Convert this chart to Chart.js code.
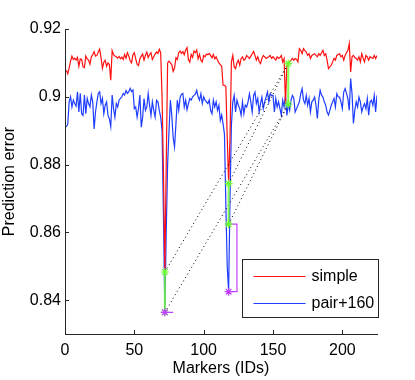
<!DOCTYPE html>
<html>
<head>
<meta charset="utf-8">
<script src="https://cdn.jsdelivr.net/npm/chart.js@4.4.1/dist/chart.umd.min.js"></script>
<style>
  html, body { margin: 0; padding: 0; background: #fff; }
  canvas { display: block; }
</style>
</head>
<body>
<canvas id="errChart" width="415" height="380"></canvas>
<script>
// prediction error per marker
const simpleErr = [
  0.9078, 0.9068, 0.9085, 0.9105, 0.9120, 0.9110, 0.9114, 0.9108, 0.9116, 0.9090,
  0.9112, 0.9110, 0.9088, 0.9086, 0.9120, 0.9112, 0.9108, 0.9096, 0.9118, 0.9124,
  0.9133, 0.9120, 0.9122, 0.9132, 0.9141, 0.9115, 0.9084, 0.9102, 0.9108, 0.9090,
  0.9100, 0.9095, 0.9049, 0.9136, 0.9124, 0.9120, 0.9118, 0.9114, 0.9119, 0.9112,
  0.9117, 0.9110, 0.9125, 0.9114, 0.9130, 0.9120, 0.9106, 0.9100, 0.9124, 0.9130,
  0.9112, 0.9096, 0.9092, 0.9112, 0.9120, 0.9126, 0.9108, 0.9122, 0.9132, 0.9116,
  0.9124, 0.9130, 0.9110, 0.9118, 0.9126, 0.9132, 0.9128, 0.9140, 0.9130, 0.9000,
  0.8780, 0.8483, 0.8800, 0.9100, 0.9105, 0.9100, 0.9095, 0.9075, 0.9085, 0.9115,
  0.9110, 0.9130, 0.9135, 0.9128, 0.9133, 0.9124, 0.9138, 0.9145, 0.9110, 0.9102,
  0.9125, 0.9116, 0.9135, 0.9130, 0.9138, 0.9112, 0.9125, 0.9108, 0.9103, 0.9122,
  0.9118, 0.9126, 0.9124, 0.9128, 0.9122, 0.9115, 0.9125, 0.9112, 0.9118, 0.9108,
  0.9100, 0.9095, 0.9090, 0.9034, 0.9034, 0.9030, 0.8880, 0.8744, 0.8880, 0.9103,
  0.9122, 0.9088, 0.9083, 0.9100, 0.9108, 0.9093, 0.9113, 0.9118, 0.9108, 0.9112,
  0.9122, 0.9118, 0.9113, 0.9120, 0.9127, 0.9134, 0.9122, 0.9108, 0.9118, 0.9105,
  0.9098, 0.9113, 0.9122, 0.9118, 0.9113, 0.9116, 0.9118, 0.9122, 0.9113, 0.9118,
  0.9113, 0.9108, 0.9118, 0.9113, 0.9116, 0.9122, 0.9103, 0.9113, 0.8980, 0.9090,
  0.9098, 0.9104, 0.9108, 0.9113, 0.9108, 0.9113, 0.9110, 0.9103, 0.9142, 0.9137,
  0.9127, 0.9142, 0.9136, 0.9132, 0.9122, 0.9127, 0.9113, 0.9122, 0.9125, 0.9127,
  0.9122, 0.9118, 0.9127, 0.9122, 0.9130, 0.9137, 0.9122, 0.9127, 0.9108, 0.9083,
  0.9088, 0.9093, 0.9103, 0.9113, 0.9108, 0.9122, 0.9125, 0.9127, 0.9118, 0.9122,
  0.9108, 0.9122, 0.9130, 0.9137, 0.9157, 0.9073, 0.9118, 0.9122, 0.9116, 0.9113,
  0.9108, 0.9118, 0.9103, 0.9127, 0.9114, 0.9103, 0.9122, 0.9118, 0.9108, 0.9118,
  0.9115, 0.9113, 0.9122, 0.9113, 0.9122
];
const pairErr = [
  0.8911, 0.8920, 0.8985, 0.9000, 0.8970, 0.8990, 0.8980, 0.8972, 0.9015, 0.8955,
  0.9010, 0.8950, 0.8945, 0.9005, 0.8950, 0.8995, 0.8980, 0.8970, 0.9005, 0.8985,
  0.8905, 0.8955, 0.8985, 0.9010, 0.9015, 0.8980, 0.8995, 0.8950, 0.8975, 0.8985,
  0.8945, 0.8935, 0.8912, 0.9005, 0.8965, 0.8940, 0.8980, 0.8970, 0.8990, 0.8995,
  0.9000, 0.9010, 0.9005, 0.9018, 0.9010, 0.9015, 0.9025, 0.9015, 0.9020, 0.8965,
  0.8970, 0.8940, 0.8965, 0.9005, 0.8910, 0.8940, 0.8995, 0.8960, 0.8970, 0.9010,
  0.8975, 0.8945, 0.8985, 0.8960, 0.8940, 0.8990, 0.8985, 0.8960, 0.8940, 0.8900,
  0.8650, 0.8364, 0.8600, 0.8800, 0.8900, 0.8990, 0.8945, 0.8880, 0.8852, 0.8920,
  0.8990, 0.8960, 0.8998, 0.9008, 0.9010, 0.8970, 0.8990, 0.8962, 0.8980, 0.8995,
  0.8990, 0.9000, 0.9004, 0.9008, 0.9019, 0.9000, 0.8990, 0.9009, 0.8980, 0.9000,
  0.8990, 0.8985, 0.8980, 0.8990, 0.8960, 0.8950, 0.8990, 0.8970, 0.8985, 0.8960,
  0.8975, 0.8930, 0.8946, 0.8920, 0.8890, 0.8680, 0.8500, 0.8425, 0.8700, 0.8916,
  0.8985, 0.9004, 0.8955, 0.8990, 0.8975, 0.8965, 0.8946, 0.8985, 0.8950, 0.8975,
  0.8970, 0.8985, 0.9009, 0.8985, 0.8955, 0.9004, 0.9014, 0.8980, 0.8995, 0.8955,
  0.8980, 0.8999, 0.8965, 0.8985, 0.8999, 0.9014, 0.8985, 0.9009, 0.9004, 0.9004,
  0.8955, 0.8995, 0.8970, 0.8985, 0.8965, 0.8946, 0.8990, 0.8970, 0.9004, 0.8945,
  0.8978, 0.8960, 0.8990, 0.9004, 0.8995, 0.8955, 0.8965, 0.8975, 0.8985, 0.9009,
  0.9024, 0.8990, 0.8980, 0.9004, 0.8975, 0.8995, 0.8955, 0.8985, 0.8990, 0.8999,
  0.8975, 0.8936, 0.8990, 0.9019, 0.9005, 0.8999, 0.8985, 0.8975, 0.8955, 0.8946,
  0.8960, 0.8975, 0.8985, 0.8995, 0.8970, 0.9009, 0.9000, 0.8999, 0.8985, 0.8965,
  0.9014, 0.9024, 0.9010, 0.8995, 0.8960, 0.9054, 0.9009, 0.8921, 0.8960, 0.8985,
  0.8970, 0.8999, 0.8985, 0.8955, 0.8970, 0.8980, 0.8965, 0.8995, 0.8946, 0.8985,
  0.8990, 0.8975, 0.9004, 0.8955, 0.9004
];

// matched markers (green), best pair error (magenta)
const matchIds = [72, 118, 161];
const matchUpper = [0.8483, 0.8744, 0.9098];
const matchLower = [0.8364, 0.8624, 0.8978];
const bestIds = [72, 118];
const bestErr = [0.8364, 0.8425];
const bracketReach = 6;

const xTicks = [0, 50, 100, 150, 200];
const yTicks = [0.84, 0.86, 0.88, 0.9, 0.92];

const ids = simpleErr.map((_, i) => i + 1);
const toPoints = vals => vals.map((v, i) => ({ x: ids[i], y: v }));

const greenPts = [];
matchIds.forEach((id, i) => {
  greenPts.push({ x: id, y: matchUpper[i] }, { x: id, y: matchLower[i] }, { x: id, y: null });
});

const bracketPts = [];
bestIds.forEach((id, i) => {
  bracketPts.push(
    { x: id, y: matchLower[i] },
    { x: id + bracketReach, y: matchLower[i] },
    { x: id + bracketReach, y: bestErr[i] },
    { x: id, y: bestErr[i] },
    { x: id, y: null }
  );
});
const bestPts = bestIds.map((id, i) => ({ x: id, y: bestErr[i] }));

const dotPts = [];
const last = matchIds.length - 1;
for (let i = 0; i < last; i++) {
  dotPts.push(
    { x: matchIds[i], y: matchUpper[i] }, { x: matchIds[last], y: matchUpper[last] }, { x: matchIds[i], y: null },
    { x: matchIds[i], y: matchLower[i] }, { x: matchIds[last], y: matchLower[last] }, { x: matchIds[i], y: null }
  );
}

const FONT = "'Liberation Sans', Arial, Helvetica, sans-serif";
const AXIS = '#262626';
const GREEN = 'rgba(110,255,50,0.85)';
const MAGENTA = '#c040ff';

// MATLAB style inward ticks
const inwardTicks = {
  id: 'inwardTicks',
  afterDatasetsDraw(chart) {
    const { ctx, chartArea: a, scales } = chart;
    ctx.save();
    ctx.strokeStyle = AXIS;
    ctx.lineWidth = 1;
    ctx.beginPath();
    xTicks.forEach(t => {
      const px = Math.round(scales.x.getPixelForValue(t)) + 0.5;
      ctx.moveTo(px, a.bottom);
      ctx.lineTo(px, a.bottom - 4);
    });
    yTicks.forEach(t => {
      const py = Math.round(scales.y.getPixelForValue(t)) + 0.5;
      ctx.moveTo(a.left, py);
      ctx.lineTo(a.left + 4, py);
    });
    ctx.stroke();
    ctx.restore();
  }
};

// legend box in the lower right corner
const boxLegend = {
  id: 'boxLegend',
  afterDraw(chart) {
    const { ctx, chartArea: a } = chart;
    const items = chart.data.datasets.filter(d => d.inLegend);
    const w = 136, h = 58;
    const x0 = Math.round(a.right - w + 1) + 0.5;
    const y0 = Math.round(a.bottom - 17 - h) + 0.5;
    ctx.save();
    ctx.fillStyle = '#fff';
    ctx.fillRect(x0, y0, w, h);
    ctx.strokeStyle = AXIS;
    ctx.lineWidth = 1;
    ctx.strokeRect(x0, y0, w, h);
    ctx.font = '16px ' + FONT;
    ctx.textBaseline = 'middle';
    ctx.fillStyle = '#000';
    items.forEach((d, i) => {
      const cy = y0 + 16.5 + i * 26.5;
      ctx.strokeStyle = d.borderColor;
      ctx.lineWidth = 1.2;
      ctx.beginPath();
      ctx.moveTo(x0 + 11, Math.round(cy) + 0.5);
      ctx.lineTo(x0 + 63, Math.round(cy) + 0.5);
      ctx.stroke();
      ctx.fillText(d.label, x0 + 69, cy + 1);
    });
    ctx.restore();
  }
};

new Chart(document.getElementById('errChart').getContext('2d'), {
  type: 'line',
  data: {
    datasets: [
      { label: 'best', data: bestPts, showLine: false, pointStyle: 'star', pointRadius: 4,
        pointBorderColor: MAGENTA, pointBorderWidth: 1.2 },
      { label: 'match', data: greenPts, borderColor: GREEN, borderWidth: 2, pointStyle: 'star',
        pointRadius: 4, pointBorderColor: 'rgb(110,255,50)', pointBorderWidth: 1.2, spanGaps: false },
      { label: 'bracket', data: bracketPts, borderColor: MAGENTA, borderWidth: 1.2, pointRadius: 0, spanGaps: false },
      { label: 'links', data: dotPts, borderColor: '#000', borderWidth: 1, borderDash: [1, 3],
        pointRadius: 0, spanGaps: false },
      { label: 'simple', inLegend: true, data: toPoints(simpleErr), borderColor: '#ff1010',
        borderWidth: 1.2, pointRadius: 0 },
      { label: 'pair+160', inLegend: true, data: toPoints(pairErr), borderColor: '#1f3dff',
        borderWidth: 1.2, pointRadius: 0 }
    ]
  },
  options: {
    responsive: false,
    animation: false,
    events: [],
    layout: { padding: { top: 29, right: 38, left: 0, bottom: 0 } },
    elements: { line: { tension: 0 } },
    plugins: { legend: { display: false }, tooltip: { enabled: false } },
    scales: {
      x: {
        type: 'linear', min: 0, max: 225,
        afterFit: s => { s.height = 46; },
        afterBuildTicks: s => { s.ticks = xTicks.map(v => ({ value: v })); },
        grid: { display: false, drawTicks: false },
        border: { color: AXIS, width: 1 },
        ticks: { color: '#000', padding: 7, font: { family: FONT, size: 16 }, maxRotation: 0 },
        title: { display: true, text: 'Markers (IDs)', color: '#000', padding: { top: 0, bottom: 2 },
          font: { family: FONT, size: 16 } }
      },
      y: {
        type: 'linear', min: 0.83, max: 0.92,
        afterFit: s => { s.width = 65; },
        afterBuildTicks: s => { s.ticks = yTicks.map(v => ({ value: v })); },
        grid: { display: false, drawTicks: false },
        border: { color: AXIS, width: 1 },
        ticks: { color: '#000', padding: 4, font: { family: FONT, size: 16 },
          callback: v => String(Math.round(v * 100) / 100) },
        title: { display: true, text: 'Prediction error', color: '#000', padding: { top: 0, bottom: 2 },
          font: { family: FONT, size: 16 } }
      }
    }
  },
  plugins: [inwardTicks, boxLegend]
});
</script>
</body>
</html>
